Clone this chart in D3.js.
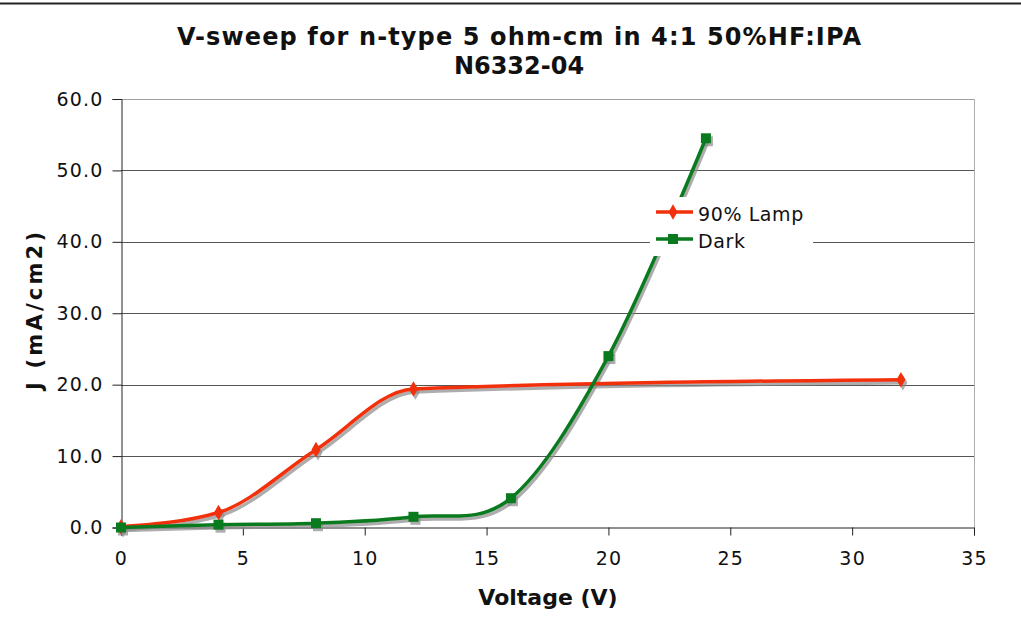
<!DOCTYPE html>
<html>
<head>
<meta charset="utf-8">
<script src="https://cdn.jsdelivr.net/npm/d3@7"></script>
<style>
  body { margin: 0; background: #fff; }
  text { font-family: "DejaVu Sans", Verdana, sans-serif; fill: #111; }
</style>
</head>
<body>
<div id="chart"></div>
<script>
// Data
const lampVolts = [0, 4, 8, 12, 32];
const lampJ = [0.1, 2.1, 10.9, 19.4, 20.7];
const darkVolts = [0, 4, 8, 12, 16, 20, 24];
const darkJ = [0.0, 0.4, 0.6, 1.5, 4.1, 24.0, 54.5];
const xTicks = [0, 5, 10, 15, 20, 25, 30, 35];
const yTicks = [0, 10, 20, 30, 40, 50, 60];
const seriesNames = ['90% Lamp', 'Dark'];
const seriesColors = ['#f3300c', '#0a7a1e'];

const W = 1021, H = 626;
const plotLeft = 121, plotRight = 974, plotTop = 99, plotBottom = 527.5;

const svg = d3.select('#chart').append('svg')
    .attr('width', W)
    .attr('height', H);

// page rule at the very top
svg.append('line')
    .attr('x1', 0).attr('x2', W)
    .attr('y1', 3.5).attr('y2', 3.5)
    .attr('stroke', '#222').attr('stroke-width', 2);

const x = d3.scaleLinear().domain([0, 35]).range([plotLeft, plotRight]);
const y = d3.scaleLinear().domain([0, 60]).range([plotBottom, plotTop]);

// Title
const title = svg.append('text')
    .attr('text-anchor', 'middle')
    .attr('font-weight', 'bold')
    .attr('font-size', 24)
    .attr('transform', 'translate(519,0)');
title.append('tspan').attr('x', 0).attr('y', 45)
    .attr('textLength', 684).attr('lengthAdjust', 'spacing')
    .text('V-sweep for n-type 5 ohm-cm in 4:1 50%HF:IPA');
title.append('tspan').attr('x', 0).attr('y', 74).text('N6332-04');

// Grid lines
svg.append('g')
    .selectAll('line')
    .data(yTicks.filter(d => d > 0))
    .join('line')
    .attr('x1', plotLeft).attr('x2', plotRight)
    .attr('y1', d => Math.round(y(d)) + 0.5)
    .attr('y2', d => Math.round(y(d)) + 0.5)
    .attr('stroke', d => d === 60 ? '#a0a0a0' : '#555')
    .attr('stroke-width', 1);

// right border of plot area
svg.append('line')
    .attr('x1', plotRight + 0.5).attr('x2', plotRight + 0.5)
    .attr('y1', plotTop).attr('y2', plotBottom)
    .attr('stroke', '#b0b0b0');

// Axes
const yAxis = svg.append('g')
    .attr('transform', `translate(${plotLeft + 0.5},0)`)
    .call(d3.axisLeft(y).tickValues(yTicks).tickFormat(d3.format('.1f')).tickSize(9).tickPadding(9));
const xAxis = svg.append('g')
    .attr('transform', `translate(0,${plotBottom})`)
    .call(d3.axisBottom(x).tickValues(xTicks).tickSize(8).tickPadding(16));
[yAxis, xAxis].forEach(g => {
    g.select('.domain').attr('stroke', '#222');
    g.selectAll('.tick line').attr('stroke', '#222');
    g.selectAll('.tick text').attr('font-size', 19).attr('fill', '#111')
        .attr('letter-spacing', '1.2px')
        .attr('font-family', '"DejaVu Sans", Verdana, sans-serif');
});

// Axis titles
svg.append('text')
    .attr('text-anchor', 'middle')
    .attr('font-weight', 'bold')
    .attr('font-size', 22)
    .attr('transform', 'translate(548,605)')
    .text('Voltage (V)');
svg.append('text')
    .attr('text-anchor', 'middle')
    .attr('font-weight', 'bold')
    .attr('font-size', 21)
    .attr('textLength', 158).attr('lengthAdjust', 'spacing')
    .attr('transform', 'translate(42,311) rotate(-90)')
    .text('J (mA/cm2)');

// Series (lamp points are unevenly spaced, so a monotone curve keeps it smooth)
const lineFor = curve => d3.line()
    .x(d => x(d[0]))
    .y(d => y(d[1]))
    .curve(curve);

const series = [
    { pts: d3.zip(lampVolts, lampJ), shape: d3.symbolDiamond, size: 70, line: lineFor(d3.curveMonotoneX) },
    { pts: d3.zip(darkVolts, darkJ), shape: d3.symbolSquare, size: 100, line: lineFor(d3.curveCardinal.tension(0)) }
];

// drop shadows
series.forEach(s => {
    svg.append('path')
        .datum(s.pts)
        .attr('d', s.line)
        .attr('transform', 'translate(2,3)')
        .attr('fill', 'none')
        .attr('stroke', '#8a8a8a')
        .attr('stroke-opacity', 0.7)
        .attr('stroke-width', 3.5);
    svg.append('g').selectAll('path')
        .data(s.pts)
        .join('path')
        .attr('transform', d => `translate(${x(d[0]) + 2},${y(d[1]) + 3})`)
        .attr('d', d3.symbol(s.shape, s.size))
        .attr('fill', '#8a8a8a')
        .attr('fill-opacity', 0.7);
});

series.forEach((s, i) => {
    svg.append('path')
        .datum(s.pts)
        .attr('d', s.line)
        .attr('fill', 'none')
        .attr('stroke', seriesColors[i])
        .attr('stroke-width', 3.5);
    svg.append('g').selectAll('path')
        .data(s.pts)
        .join('path')
        .attr('transform', d => `translate(${x(d[0])},${y(d[1])})`)
        .attr('d', d3.symbol(s.shape, s.size))
        .attr('fill', seriesColors[i]);
});

// Legend
const legend = svg.append('g').attr('transform', 'translate(650,197)');
legend.append('rect')
    .attr('width', 163).attr('height', 59)
    .attr('fill', '#fff');
const items = legend.selectAll('g.item')
    .data(seriesNames)
    .join('g')
    .attr('class', 'item')
    .attr('transform', (d, i) => `translate(0,${15 + i * 27})`);
items.append('line')
    .attr('x1', 6).attr('x2', 43)
    .attr('stroke', (d, i) => seriesColors[i])
    .attr('stroke-width', 3.5);
items.append('path')
    .attr('transform', 'translate(23,0)')
    .attr('d', (d, i) => d3.symbol(series[i].shape, series[i].size)())
    .attr('fill', (d, i) => seriesColors[i]);
items.append('text')
    .attr('x', 48)
    .attr('y', 9)
    .attr('font-size', 19)
    .attr('letter-spacing', '0.6px')
    .text(d => d);
</script>
</body>
</html>
